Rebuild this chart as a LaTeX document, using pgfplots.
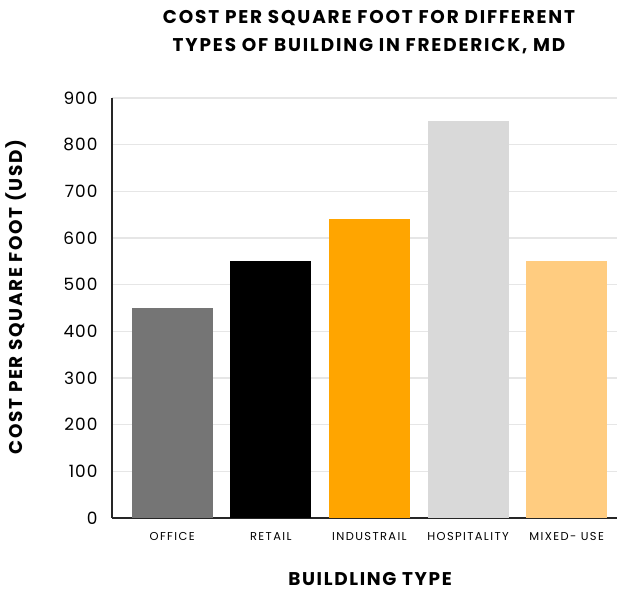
\documentclass[border=0pt]{standalone}
\usepackage{fontspec}
\setmainfont{Poppins}
\newfontfamily\titlefont{Poppins}[LetterSpace=10]
\newfontfamily\labelfont{Poppins}[LetterSpace=9]
\newfontfamily\ticksfont{Poppins}[LetterSpace=6]
\newfontfamily\catfont{Poppins}[LetterSpace=12]
\usepackage{pgfplots}
\pgfplotsset{compat=1.18}

\definecolor{officegray}{HTML}{757575}
\definecolor{retailblack}{HTML}{000000}
\definecolor{indorange}{HTML}{FFA500}
\definecolor{hospgray}{HTML}{D9D9D9}
\definecolor{mixedorange}{HTML}{FFCC80}
\definecolor{gridgray}{HTML}{E6E6E6}
\definecolor{axisdark}{HTML}{262626}

\begin{document}
\begin{tikzpicture}
\path[use as bounding box] (0,0) rectangle (622bp,597bp);

\begin{axis}[
    at={(112bp,79bp)}, anchor=south west,
    scale only axis,
    width=505bp, height=420bp,
    xmin=-0.61, xmax=4.51,
    ymin=0, ymax=900,
    ytick={0,100,...,900},
    xtick={0,1,2,3,4},
    xticklabels={OFFICE,RETAIL,INDUSTRAIL,HOSPITALITY,MIXED- USE},
    /pgf/number format/assume math mode=true,
    ybar, bar shift=0pt, bar width=0.82,
    axis x line=bottom, axis y line=left,
    axis line style={-},
    x axis line style={line width=2.2bp, draw=axisdark},
    y axis line style={line width=1.6bp, draw=axisdark},
    major tick length=0pt,
    ymajorgrids,
    grid style={line width=1.6bp, draw=gridgray},
    yticklabel style={font=\ticksfont\fontsize{17}{20}\selectfont, xshift=-11bp},
    xticklabel style={font=\catfont\fontsize{11.5}{13}\selectfont, yshift=-11bp},
    clip=false,
]
\addplot[fill=officegray, draw=none] coordinates {(0,450)};
\addplot[fill=retailblack, draw=none] coordinates {(1,550)};
\addplot[fill=indorange, draw=none] coordinates {(2,640)};
\addplot[fill=hospgray, draw=none] coordinates {(3,850)};
\addplot[fill=mixedorange, draw=none] coordinates {(4,550)};
\end{axis}

\node[align=center, font=\titlefont\bfseries\fontsize{18.5}{28}\selectfont] at (369bp,565bp)
  {COST PER SQUARE FOOT FOR DIFFERENT\\TYPES OF BUILDING IN FREDERICK, MD};
\node[font=\labelfont\bfseries\fontsize{18.5}{20}\selectfont] at (370bp,18bp) {BUILDLING TYPE};
\node[rotate=90, font=\labelfont\bfseries\fontsize{18.5}{20}\selectfont] at (16bp,300bp)
  {COST PER SQUARE FOOT (USD)};
\end{tikzpicture}
\end{document}
